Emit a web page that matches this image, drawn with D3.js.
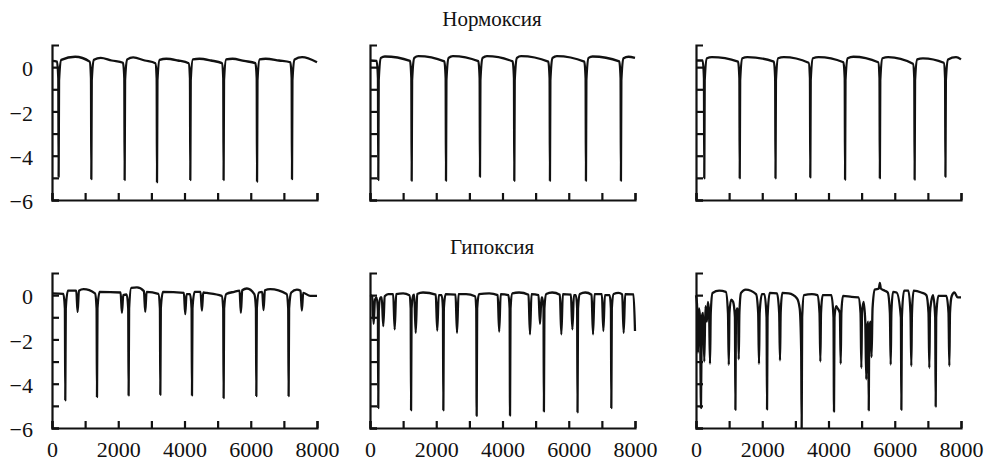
<!DOCTYPE html>
<html>
<head>
<meta charset="utf-8">
<script src="https://cdn.jsdelivr.net/npm/d3@7"></script>
<style>
  body { margin: 0; background: #fff; }
  text { font-family: "Liberation Serif", "Times New Roman", serif; fill: #111; }
</style>
</head>
<body>
<svg id="viz" width="987" height="466"></svg>
<script>
// Data: [time, value] pairs for each trace

var rowTitles = ["Нормоксия", "Гипоксия"];
var xTicks = [0, 1000, 2000, 3000, 4000, 5000, 6000, 7000, 8000];
var xTickLabels = [0, 2000, 4000, 6000, 8000];
var yTicks = [-6, -5, -4, -3, -2, -1, 0];
var yTickLabels = [0, -2, -4, -6];

var normoxia1 = [
  [0,0.28],[150,0.25],[190,-0.5],[200,-4.95],[213,-0.6],[280,0.33],[700,0.47],[1137,0.25],
  [1177,-0.5],[1187,-5.06],[1200,-0.6],[1267,0.33],[1470,0.42],[1800,0.3],[2143,0.2],
  [2183,-0.5],[2193,-5.1],[2206,-0.6],[2273,0.35],[2450,0.44],[2800,0.3],[3120,0.18],
  [3160,-0.5],[3170,-5.2],[3183,-0.6],[3250,0.33],[3450,0.38],[3800,0.3],[4125,0.18],
  [4165,-0.5],[4175,-5.1],[4188,-0.6],[4255,0.35],[4450,0.38],[4800,0.3],[5130,0.18],
  [5170,-0.5],[5180,-5.1],[5193,-0.6],[5260,0.35],[5450,0.38],[5800,0.28],[6140,0.18],
  [6180,-0.5],[6190,-5.17],[6203,-0.6],[6270,0.35],[6450,0.38],[6850,0.3],[7195,0.22],
  [7235,-0.5],[7245,-5.06],[7258,-0.6],[7325,0.35],[7550,0.45],[8000,0.22]
];

var normoxia2 = [
  [0,0.3],[200,0.28],[240,-0.5],[250,-5.1],[263,-0.6],[330,0.42],[450,0.48],[1208,0.28],
  [1248,-0.5],[1258,-5.13],[1271,-0.6],[1338,0.42],[1460,0.5],[2244,0.26],
  [2284,-0.5],[2294,-5.13],[2307,-0.6],[2374,0.42],[2500,0.5],[3270,0.27],
  [3310,-0.5],[3320,-4.95],[3333,-0.6],[3400,0.42],[3530,0.5],[4306,0.26],
  [4346,-0.5],[4356,-5.13],[4369,-0.6],[4436,0.42],[4560,0.5],[5382,0.25],
  [5422,-0.5],[5432,-5.13],[5445,-0.6],[5512,0.42],[5640,0.5],[6469,0.25],
  [6509,-0.5],[6519,-5.13],[6532,-0.6],[6599,0.42],[6720,0.48],[7525,0.26],
  [7565,-0.5],[7575,-5.13],[7588,-0.6],[7655,0.4],[7800,0.47],[8000,0.42]
];

var normoxia3 = [
  [0,0.3],[200,0.3],[240,-0.5],[250,-5.02],[263,-0.6],[330,0.4],[480,0.45],[1270,0.25],
  [1310,-0.5],[1320,-5.02],[1333,-0.6],[1400,0.4],[1550,0.45],[2350,0.25],
  [2390,-0.5],[2400,-5.02],[2413,-0.6],[2480,0.4],[2650,0.45],[3400,0.2],
  [3440,-0.5],[3450,-4.98],[3463,-0.6],[3530,0.4],[3700,0.45],[4450,0.22],
  [4490,-0.5],[4500,-5.08],[4513,-0.6],[4580,0.4],[4750,0.47],[5500,0.22],
  [5540,-0.5],[5550,-5.02],[5563,-0.6],[5630,0.4],[5800,0.45],[6550,0.15],
  [6590,-0.5],[6600,-5.08],[6613,-0.6],[6680,0.35],[6850,0.4],[7480,0.2],
  [7520,-0.5],[7530,-4.95],[7543,-0.6],[7610,0.35],[7850,0.45],[8000,0.35]
];

var hypoxia1 = [
  [0,0.08],[341,0.06],[389,-0.6],[401,-4.75],[416,-0.6],[481,0.2],[733,0.2],[773,-0.76],[813,0.2],[954,0.27],[1298,0.08],
  [1346,-0.6],[1358,-4.6],[1373,-0.6],[1438,0.15],[2071,0.12],[2111,-0.8],[2151,0.0],[2253,0.03],
  [2301,-0.6],[2313,-4.53],[2328,-0.6],[2393,0.33],[2564,0.35],[2775,0.18],[2815,-0.76],[2855,0.15],[3210,0.06],
  [3258,-0.6],[3270,-4.5],[3285,-0.6],[3350,0.15],[3982,0.1],[4022,-0.86],[4062,0.05],[4166,0.05],
  [4214,-0.6],[4226,-4.53],[4241,-0.6],[4306,0.15],[4485,0.15],[4525,-0.7],[4565,0.12],[4676,0.1],[5121,-0.03],
  [5169,-0.6],[5181,-4.65],[5196,-0.6],[5261,0.05],[5500,0.15],[5662,0.2],[5702,-0.8],[5742,0.22],[5883,0.3],[6108,0.05],
  [6156,-0.6],[6168,-4.56],[6183,-0.6],[6248,0.12],[6346,0.15],[6386,-0.67],[6426,0.22],[6588,0.27],[7083,0.05],
  [7131,-0.6],[7143,-4.56],[7158,-0.6],[7223,0.12],[7392,0.25],[7503,0.2],[7543,-0.7],[7583,0.1],[7795,-0.03],[8000,-0.03]
];

var hypoxia2 = [
  [0,0.0],[65,-0.05],[110,-1.3],[150,-0.2],[200,-0.1],[238,-0.7],[250,-5.1],[265,-0.7],[310,-0.1],[355,-0.1],[400,-1.4],[445,-0.05],[550,0.05],
  [700,0.05],[745,-1.55],[790,0.05],[1000,0.08],[1190,0.0],[1228,-0.6],[1240,-5.2],[1255,-0.6],[1310,0.0],[1335,0.02],[1380,-1.7],[1425,0.05],[1600,0.12],
  [1985,0.02],[2030,-1.6],[2075,0.0],[2164,0.0],[2202,-0.6],[2214,-5.2],[2229,-0.6],[2284,0.05],[2582,0.02],[2627,-1.7],[2672,0.05],[2900,0.05],
  [3170,-0.05],[3208,-0.6],[3220,-5.45],[3235,-0.6],[3290,0.05],[3600,0.08],[3855,0.0],[3900,-1.65],[3945,0.05],[4177,0.0],
  [4215,-0.6],[4227,-5.44],[4242,-0.6],[4297,0.08],[4500,0.12],[4785,0.02],[4830,-1.77],[4875,0.05],[5087,0.0],[5132,-1.3],[5177,-0.1],[5200,-0.1],
  [5238,-0.6],[5250,-5.25],[5265,-0.6],[5320,0.05],[5500,0.12],[5731,0.02],[5776,-1.77],[5821,0.05],[6065,0.02],[6110,-1.55],[6155,0.0],[6215,0.0],
  [6253,-0.6],[6265,-5.29],[6280,-0.6],[6335,0.05],[6500,0.12],[6688,0.02],[6733,-1.77],[6778,0.05],[7000,0.05],[7045,-1.62],[7090,0.0],[7235,0.0],
  [7273,-0.6],[7285,-5.1],[7300,-0.6],[7355,0.05],[7500,0.1],[7613,0.03],[7658,-1.7],[7703,0.05],[7955,0.03],[8000,-1.62]
];

var hypoxia3 = [
  [0,0.0],[30,-0.4],[60,-2.6],[90,-0.6],[120,-1.0],[150,-5.1],[175,-1.0],[215,-0.8],[250,-3.0],[285,-0.5],[330,-1.2],[360,-0.3],[395,-0.8],[423,-3.1],[445,-0.8],[500,0.1],[700,0.2],
  [900,0.15],[965,-0.8],[990,-3.15],[1010,-0.8],[1060,-0.2],[1120,-0.3],[1175,-1.0],[1190,-5.18],[1205,-1.0],[1240,-0.6],[1270,-0.8],[1290,-2.9],[1310,-0.8],[1360,0.1],[1500,0.25],[1812,0.05],
  [1877,-0.8],[1902,-3.1],[1922,-0.8],[1990,0.05],[2065,0.05],[2130,-1.0],[2145,-5.16],[2160,-1.0],[2225,0.1],[2446,0.08],[2511,-0.8],[2536,-2.95],[2556,-0.8],[2606,0.1],[2800,0.08],
  [3050,-0.15],[3130,-0.6],[3175,-2.5],[3190,-6.0],[3205,-1.0],[3260,0.0],[3500,0.05],[3664,0.0],[3729,-0.8],[3754,-3.0],[3774,-0.8],[3824,0.0],[4086,0.0],
  [4151,-1.0],[4166,-5.26],[4181,-1.0],[4230,-0.5],[4278,-0.6],[4343,-0.8],[4368,-3.1],[4388,-0.8],[4438,-0.03],[4700,-0.08],[4902,-0.1],[4967,-0.8],[4992,-3.29],[5012,-0.8],[5060,-0.3],
  [5110,-1.2],[5140,-3.8],[5165,-1.5],[5200,-1.2],[5215,-5.2],[5230,-1.5],[5270,-1.2],[5300,-2.8],[5330,-0.6],[5400,0.25],[5520,0.3],[5550,0.55],[5580,0.3],[5700,0.2],[5788,0.12],
  [5853,-0.8],[5878,-3.14],[5898,-0.8],[5948,0.15],[6055,0.12],[6185,-1.0],[6200,-5.18],[6215,-1.0],[6280,0.2],[6410,0.2],[6475,-0.8],[6500,-3.2],[6520,-0.8],[6570,0.2],[6800,0.12],[6954,0.0],
  [7019,-0.8],[7044,-3.29],[7064,-0.8],[7100,-0.3],[7156,0.0],[7221,-1.0],[7236,-5.03],[7251,-1.0],[7316,-0.03],[7558,-0.03],[7623,-0.8],[7648,-3.2],[7668,-0.8],[7718,-0.05],[7800,0.12],[7900,-0.1],[8000,-0.1]
];

var rows = [[normoxia1, normoxia2, normoxia3], [hypoxia1, hypoxia2, hypoxia3]];

// Layout

var svg = d3.select("#viz");
var panelLeft = [52, 370, 696],
    rowTop = [45, 273],
    panelW = 265,
    panelH = 155;

var minus = d => String(d).replace("-", "\u2212");

rows.forEach(function(row, r) {
  svg.append("text")
    .attr("x", 492)
    .attr("y", rowTop[r] - 19)
    .attr("text-anchor", "middle")
    .style("font-size", "21px")
    .text(rowTitles[r]);

  row.forEach(function(trace, c) {
    var g = svg.append("g")
      .attr("transform", "translate(" + panelLeft[c] + "," + rowTop[r] + ")");

    var x = d3.scaleLinear().domain([0, 8000]).range([0, panelW]);
    var y = d3.scaleLinear().domain([-6, 1]).range([panelH, 0]);

    var xAxis = d3.axisBottom(x)
      .tickValues(xTicks)
      .tickSizeInner(-7)
      .tickSizeOuter(-7)
      .tickPadding(13)
      .tickFormat(d => (r == 1 && xTickLabels.includes(d)) ? d : "");

    var yAxis = d3.axisLeft(y)
      .tickValues(yTicks)
      .tickSizeInner(-7)
      .tickSizeOuter(-7)
      .tickPadding(19)
      .tickFormat(d => (c == 0 && yTickLabels.includes(d)) ? minus(d) : "");

    var gx = g.append("g").attr("transform", "translate(0," + panelH + ")").call(xAxis);
    var gy = g.append("g").call(yAxis);

    [gx, gy].forEach(function(a) {
      a.attr("font-family", null).attr("font-size", null);
      a.selectAll(".domain, .tick line")
        .attr("stroke", "#111")
        .attr("stroke-width", 2.2);
      a.selectAll("text")
        .style("font-size", "22px")
        .attr("fill", "#111");
    });
    gy.selectAll("text").attr("dy", "0.4em");

    var line = d3.line()
      .x(d => x(d[0]))
      .y(d => y(d[1]))
      .curve(d3.curveMonotoneX);

    g.append("path")
      .datum(trace)
      .attr("d", line)
      .attr("fill", "none")
      .attr("stroke", "#111")
      .attr("stroke-width", 2.3)
      .attr("stroke-linejoin", "round");
  });
});
</script>
</body>
</html>
